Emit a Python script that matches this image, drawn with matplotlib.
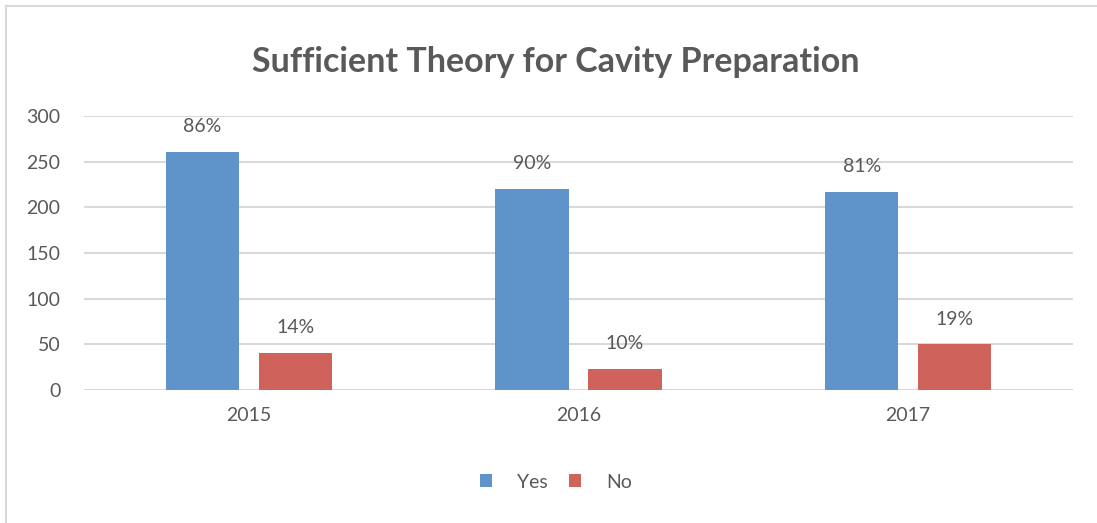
import matplotlib.pyplot as plt
from matplotlib.lines import Line2D
import numpy as np

years = ["2015", "2016", "2017"]
yes_counts = [261, 220, 217]
no_counts = [41, 23, 50]
yes_labels = ["86%", "90%", "81%"]
no_labels = ["14%", "10%", "19%"]

plt.rcParams['font.family'] = ['Lato', 'DejaVu Sans']
grey = "#595959"

fig = plt.figure(figsize=(10.97, 5.23), dpi=100)
ax = fig.add_axes([84/1097, 1-390/523, (1073-84)/1097, (390-116)/523])

# light frame at top and left (chart is cropped at right/bottom)
fx = 6/1097
fy = 1 - 6/523
fig.lines.append(Line2D([fx, 1.0], [fy, fy], transform=fig.transFigure, color="#d9d9d9", linewidth=1.5))
fig.lines.append(Line2D([fx, fx], [0.0, fy], transform=fig.transFigure, color="#d9d9d9", linewidth=1.5))

x = np.arange(len(years))
w = 0.222
gap = 0.06
b1 = ax.bar(x - (w+gap)/2, yes_counts, w, color="#5E94C9", label="Yes")
b2 = ax.bar(x + (w+gap)/2, no_counts, w, color="#CF635C", label="No")

for bars, labs in ((b1, yes_labels), (b2, no_labels)):
    for bar, lab in zip(bars, labs):
        ax.annotate(lab, (bar.get_x() + bar.get_width()/2, bar.get_height()),
                    xytext=(0, 12), textcoords="offset points", ha="center", va="bottom",
                    fontsize=14, color=grey)

ax.set_xlim(-0.5, 2.5)
ax.set_ylim(0, 300)
ax.set_yticks(range(0, 301, 50))
ax.set_xticks(x)
ax.set_xticklabels(years)
ax.tick_params(length=0, labelsize=14, labelcolor=grey)
ax.tick_params(axis='y', pad=17)
ax.tick_params(axis='x', pad=12)
ax.grid(axis='y', color="#d9d9d9", linewidth=1.5)
ax.set_axisbelow(True)
for s in ax.spines.values():
    s.set_visible(False)

fig.text(556/1097, 1-62/523, "Sufficient Theory for Cavity Preparation", ha="center", va="center",
         fontsize=24.5, fontweight="bold", color=grey)

fig.legend(handles=[b1, b2], loc="center", bbox_to_anchor=(556/1097, 1-482/523), ncol=2,
           frameon=False, fontsize=14, labelcolor=grey, handlelength=0.6, handleheight=0.6,
           columnspacing=1.1, handletextpad=1.3)

fig.savefig("out.png", dpi=100)
